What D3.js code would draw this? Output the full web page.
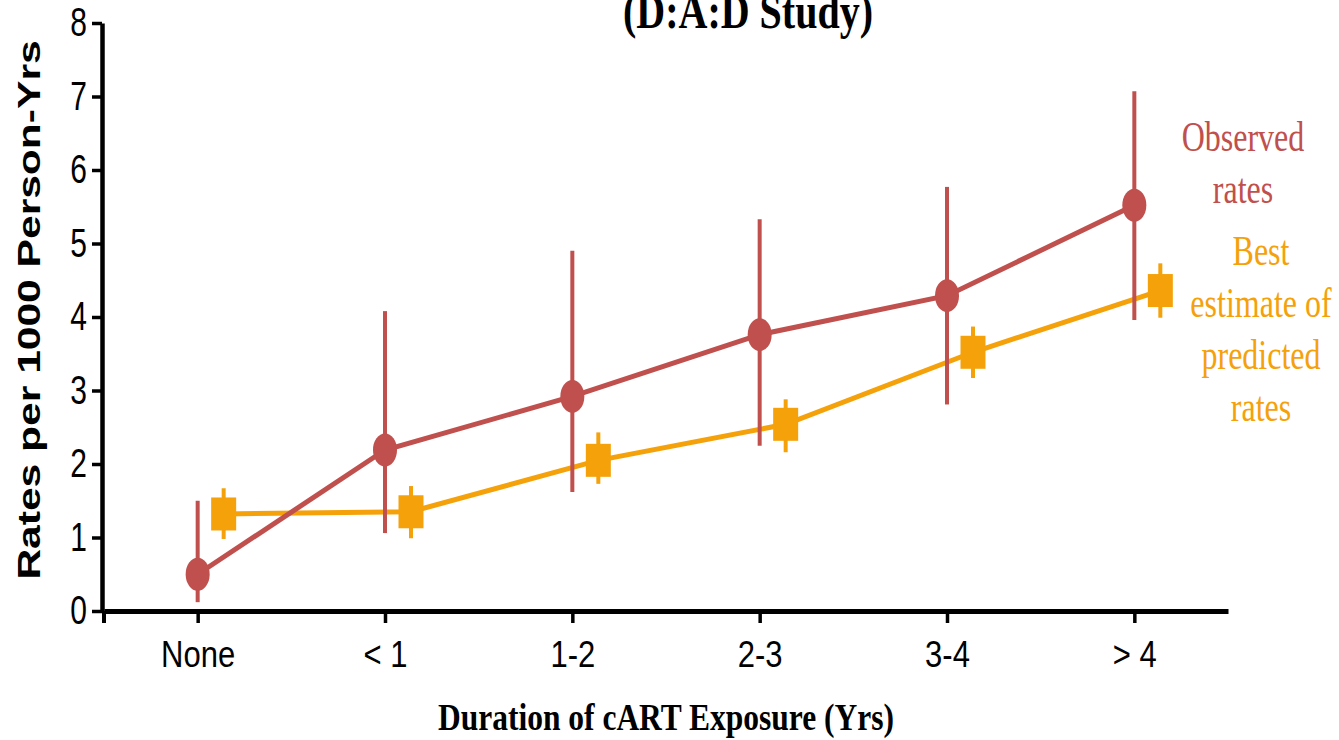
<!DOCTYPE html>
<html>
<head>
<meta charset="utf-8">
<script src="https://cdn.jsdelivr.net/npm/d3@7"></script>
<style>
  body { margin: 0; background: #fff; }
  svg { display: block; }
</style>
</head>
<body>
<div class="chart"></div>
<script>
// data
var categories = ['None', '< 1', '1-2', '2-3', '3-4', '> 4'];
var observed = [0.5, 2.19, 2.92, 3.76, 4.29, 5.52];
var observedLow = [0.12, 1.06, 1.62, 2.25, 2.81, 3.96];
var observedHigh = [1.5, 4.08, 4.9, 5.33, 5.77, 7.07];
var predicted = [1.32, 1.35, 2.05, 2.54, 3.52, 4.36];
var predictedLow = [0.98, 0.99, 1.73, 2.16, 3.17, 3.99];
var predictedHigh = [1.67, 1.7, 2.43, 2.88, 3.87, 4.73];
var yTicks = [0, 1, 2, 3, 4, 5, 6, 7, 8];

var red = '#c0504d',
  orange = '#f5a10a',
  predOffset = 26;

var svg = d3
  .select('.chart')
  .append('svg')
  .attr('width', 1339)
  .attr('height', 740);

var x = d3.scalePoint().domain(categories).range([104, 1228]).padding(0.5);
var y = d3.scaleLinear().domain([0, 8]).range([611, 23]);

// y axis
var yAxis = svg
  .append('g')
  .attr('transform', 'translate(102,0)')
  .call(d3.axisLeft(y).tickValues(yTicks).tickSize(10).tickSizeOuter(0));

yAxis.select('.domain').attr('stroke-width', 4.5);
yAxis.selectAll('.tick line').attr('stroke-width', 3.5);
yAxis
  .selectAll('.tick text')
  .attr('x', -15)
  .attr('dy', '0.32em')
  .attr('transform', 'scale(1,1.35)')
  .style('font-family', 'Liberation Sans, Arial, sans-serif')
  .style('font-size', '30px')
  .attr('fill', '#000');

// x axis
var xAxis = svg
  .append('g')
  .attr('transform', 'translate(0,611)')
  .call(d3.axisBottom(x).tickSize(12).tickSizeOuter(0));

xAxis.select('.domain').attr('stroke-width', 5);
xAxis.selectAll('.tick line').attr('stroke-width', 3.5);
xAxis
  .selectAll('.tick text')
  .attr('y', 0)
  .attr('dy', null)
  .attr('transform', 'translate(0,56) scale(1,1.2)')
  .style('font-family', 'Liberation Sans, Arial, sans-serif')
  .style('font-size', '31px')
  .attr('fill', '#000');

// left end tick of the x axis
svg
  .append('line')
  .attr('x1', x.range()[0])
  .attr('x2', x.range()[0])
  .attr('y1', y(0))
  .attr('y2', y(0) + 12)
  .attr('stroke', '#000')
  .attr('stroke-width', 4);

// predicted series
var predLine = d3
  .line()
  .x(function (d, i) { return x(categories[i]) + predOffset; })
  .y(function (d) { return y(d); });

svg
  .append('path')
  .datum(predicted)
  .attr('d', predLine)
  .attr('fill', 'none')
  .attr('stroke', orange)
  .attr('stroke-width', 5);

svg
  .selectAll('.pred-err')
  .data(predicted)
  .enter()
  .append('line')
  .attr('class', 'pred-err')
  .attr('x1', function (d, i) { return x(categories[i]) + predOffset; })
  .attr('x2', function (d, i) { return x(categories[i]) + predOffset; })
  .attr('y1', function (d, i) { return y(predictedLow[i]); })
  .attr('y2', function (d, i) { return y(predictedHigh[i]); })
  .attr('stroke', orange)
  .attr('stroke-width', 4);

svg
  .selectAll('.pred-pt')
  .data(predicted)
  .enter()
  .append('rect')
  .attr('class', 'pred-pt')
  .attr('x', function (d, i) { return x(categories[i]) + predOffset - 12.5; })
  .attr('y', function (d) { return y(d) - 16.5; })
  .attr('width', 25)
  .attr('height', 33)
  .attr('fill', orange);

// observed series
var obsLine = d3
  .line()
  .x(function (d, i) { return x(categories[i]); })
  .y(function (d) { return y(d); });

svg
  .append('path')
  .datum(observed)
  .attr('d', obsLine)
  .attr('fill', 'none')
  .attr('stroke', red)
  .attr('stroke-width', 5);

svg
  .selectAll('.obs-err')
  .data(observed)
  .enter()
  .append('line')
  .attr('class', 'obs-err')
  .attr('x1', function (d, i) { return x(categories[i]); })
  .attr('x2', function (d, i) { return x(categories[i]); })
  .attr('y1', function (d, i) { return y(observedLow[i]); })
  .attr('y2', function (d, i) { return y(observedHigh[i]); })
  .attr('stroke', red)
  .attr('stroke-width', 4);

svg
  .selectAll('.obs-pt')
  .data(observed)
  .enter()
  .append('ellipse')
  .attr('class', 'obs-pt')
  .attr('cx', function (d, i) { return x(categories[i]); })
  .attr('cy', function (d) { return y(d); })
  .attr('rx', 12)
  .attr('ry', 16.5)
  .attr('fill', red);

// titles
svg
  .append('text')
  .attr('transform', 'translate(748,28) scale(1,1.25)')
  .attr('text-anchor', 'middle')
  .style('font-family', 'Liberation Serif, Times New Roman, serif')
  .style('font-weight', 'bold')
  .style('font-size', '40px')
  .text('(D:A:D Study)');

svg
  .append('text')
  .attr('transform', 'translate(666,730) scale(1,1.2)')
  .attr('text-anchor', 'middle')
  .style('font-family', 'Liberation Serif, Times New Roman, serif')
  .style('font-weight', 'bold')
  .style('font-size', '31.5px')
  .text('Duration of cART Exposure (Yrs)');

svg
  .append('text')
  .attr('transform', 'translate(40,310) rotate(-90) scale(1.33,1)')
  .attr('text-anchor', 'middle')
  .style('font-family', 'Liberation Sans, Arial, sans-serif')
  .style('font-weight', 'bold')
  .style('font-size', '32px')
  .text('Rates per 1000 Person-Yrs');

// legend labels
var obsLabel = ['Observed', 'rates'];
var predLabel = ['Best', 'estimate of', 'predicted', 'rates'];

function addLabel(lines, cx, top, color) {
  lines.forEach(function (t, i) {
    svg
      .append('text')
      .attr('transform', 'translate(' + cx + ',' + (top + i * 52) + ') scale(1,1.3)')
      .attr('text-anchor', 'middle')
      .attr('fill', color)
      .style('font-family', 'Liberation Serif, Times New Roman, serif')
      .style('font-size', '32px')
      .text(t);
  });
}

addLabel(obsLabel, 1243, 151, red);
addLabel(predLabel, 1261, 265, orange);
</script>
</body>
</html>
